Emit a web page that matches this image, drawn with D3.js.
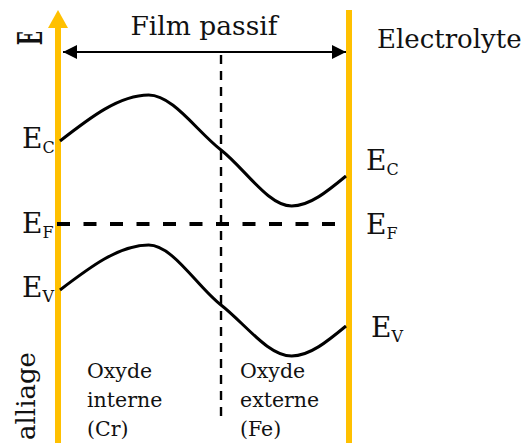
<!DOCTYPE html>
<html>
<head>
<meta charset="utf-8">
<script src="https://cdn.jsdelivr.net/npm/d3@7"></script>
<style>
  body { margin: 0; background: #fff; }
  svg { display: block; }
  text { font-family: "DejaVu Serif", serif; fill: #111; }
</style>
</head>
<body>
<svg width="523" height="443"></svg>
<script>
// position across the film (0 = alliage, 1 = electrolyte)
var positions = [0, 0.31, 0.563, 0.81, 1];
// band energies (arbitrary units)
var ecEnergy = [28.9, 33.5, 28.0, 22.4, 25.4];
var evEnergy = [14.0, 18.5, 12.5, 7.4, 10.4];
var efEnergy = [20.6, 20.6];
var efPositions = [0, 0.99];
var interfacePos = 0.563;
var bandNames = ["C", "F", "V"];
var leftLevels = [28.9, 20.6, 14.0];
var rightLevels = [25.4, 20.6, 10.4];

var svg = d3.select("svg"),
    gold = "#FFC000";

var x = d3.scaleLinear().domain([0, 1]).range([60, 346]);
var y = d3.scaleLinear().domain([0, 42]).range([430, 10]);

var defs = svg.append("defs");
defs.append("marker")
    .attr("id", "ah")
    .attr("viewBox", "0 0 10 10")
    .attr("refX", 10).attr("refY", 5)
    .attr("markerWidth", 8).attr("markerHeight", 7)
    .attr("markerUnits", "strokeWidth")
    .attr("orient", "auto-start-reverse")
    .append("path").attr("d", "M0,0L10,5L0,10Z").attr("fill", "#000");

// orange walls
svg.append("line")
    .attr("x1", 58).attr("x2", 58).attr("y1", 443).attr("y2", 26)
    .attr("stroke", gold).attr("stroke-width", 6);
svg.append("path")
    .attr("d", "M48,28L58,10L68,28Z")
    .attr("fill", gold);
svg.append("line")
    .attr("x1", 349).attr("x2", 349).attr("y1", 10).attr("y2", 443)
    .attr("stroke", gold).attr("stroke-width", 6);

// interface dashed line
svg.append("line")
    .attr("x1", x(interfacePos)).attr("x2", x(interfacePos))
    .attr("y1", 55).attr("y2", 418)
    .attr("stroke", "#000").attr("stroke-width", 2.4)
    .attr("stroke-dasharray", "9,7");

// film thickness arrow
svg.append("line")
    .attr("x1", 63).attr("x2", 346).attr("y1", 52).attr("y2", 52)
    .attr("stroke", "#000").attr("stroke-width", 2)
    .attr("marker-start", "url(#ah)").attr("marker-end", "url(#ah)");

var line = d3.line()
    .x(function (d) { return x(d[0]); })
    .y(function (d) { return y(d[1]); })
    .curve(d3.curveMonotoneX);

svg.append("path")
    .datum(d3.zip(positions, ecEnergy))
    .attr("d", line)
    .attr("fill", "none").attr("stroke", "#000").attr("stroke-width", 3);

svg.append("path")
    .datum(d3.zip(positions, evEnergy))
    .attr("d", line)
    .attr("fill", "none").attr("stroke", "#000").attr("stroke-width", 3);

svg.append("path")
    .datum(d3.zip(efPositions, efEnergy))
    .attr("d", d3.line().x(function (d) { return x(d[0]); }).y(function (d) { return y(d[1]); }))
    .attr("transform", "translate(-3,0)")
    .attr("fill", "none").attr("stroke", "#000").attr("stroke-width", 3.8)
    .attr("stroke-dasharray", "13,13.5");

// band labels
function bandLabel(xp, yp, sub) {
    var t = svg.append("text").attr("x", xp).attr("y", yp).attr("font-size", 28);
    t.append("tspan").text("E");
    t.append("tspan").attr("font-size", 16).attr("dy", 5).text(sub);
}
bandNames.forEach(function (n, i) {
    bandLabel(22, y(leftLevels[i]) + 7 + (i === 1 ? 2 : 0), n);
    bandLabel(366 + (i === 2 ? 5 : 0), y(rightLevels[i]) - 6 + (i === 1 ? 16 : 0) + (i === 2 ? 17 : 0), n);
});

svg.append("text")
    .attr("x", 204).attr("y", 35).attr("text-anchor", "middle")
    .attr("font-size", 26.5).text("Film passif");
svg.append("text")
    .attr("x", 377).attr("y", 48)
    .attr("font-size", 26).text("Electrolyte");

svg.append("text")
    .attr("transform", "translate(42,45) rotate(-90) scale(0.55,1)")
    .attr("font-size", 33).attr("font-weight", "bold")
    .text("E");
svg.append("text")
    .attr("transform", "translate(35,440) rotate(-90)")
    .attr("font-size", 26).text("alliage");

function block(xp, lines) {
    lines.forEach(function (s, i) {
        svg.append("text")
            .attr("x", xp).attr("y", 378 + i * 29)
            .attr("font-size", 20.5).text(s);
    });
}
block(87, ["Oxyde", "interne", "(Cr)"]);
block(240, ["Oxyde", "externe", "(Fe)"]);
</script>
</body>
</html>
